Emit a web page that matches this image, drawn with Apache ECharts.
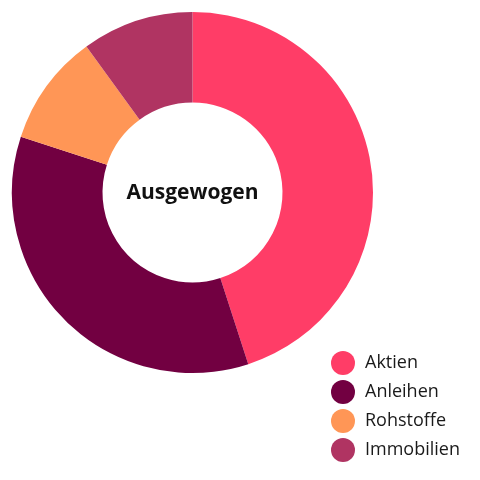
<!DOCTYPE html>
<html>
<head>
<meta charset="utf-8">
<script src="https://cdn.jsdelivr.net/npm/echarts@6/dist/echarts.min.js"></script>
<style>html,body{margin:0;padding:0;background:#fff}#c{width:480px;height:480px}</style>
</head>
<body>
<div id="c"></div>
<script>
const categories = ['Aktien', 'Anleihen', 'Rohstoffe', 'Immobilien'];
const values = [45, 35, 10, 10];
const colors = ['#FF3D67', '#720041', '#FF9656', '#B03462'];
const centerLabel = 'Ausgewogen';

const chart = echarts.init(document.getElementById('c'), null, {renderer: 'canvas'});
chart.setOption({
  animation: false,
  backgroundColor: '#ffffff',
  title: {
    text: centerLabel,
    left: 192.5,
    top: 193,
    textAlign: 'center',
    textVerticalAlign: 'middle',
    padding: 0,
    textStyle: {fontFamily: 'Open Sans', fontWeight: 'bold', fontSize: 21, color: '#111'}
  },
  legend: {
    orient: 'vertical',
    left: 331,
    top: 351,
    icon: 'circle',
    itemWidth: 24,
    itemHeight: 24,
    itemGap: 5,
    padding: 0,
    textStyle: {fontFamily: 'Open Sans', fontSize: 18, color: '#1a1a1a', padding: [0, 0, 0, 5]},
    data: categories
  },
  series: [{
    type: 'pie',
    center: [192.5, 192.5],
    radius: [90, 180.5],
    startAngle: 90,
    clockwise: true,
    label: {show: false},
    labelLine: {show: false},
    emphasis: {disabled: true},
    itemStyle: {borderWidth: 0},
    data: categories.map((n, i) => ({name: n, value: values[i], itemStyle: {color: colors[i]}}))
  }]
});
</script>
</body>
</html>
